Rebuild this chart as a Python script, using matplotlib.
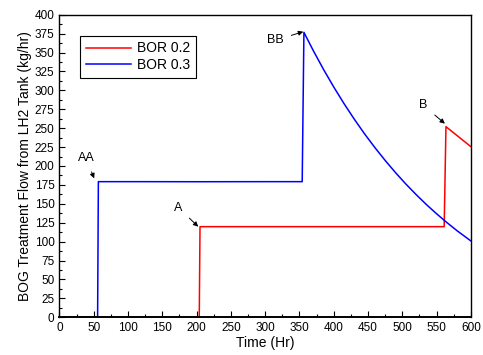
import matplotlib
matplotlib.use("Agg")
import matplotlib.pyplot as plt
from matplotlib.ticker import MultipleLocator

plt.rcParams['font.family'] = ['Liberation Sans', 'DejaVu Sans']

# BOR 0.3 (blue) samples
bor03_t = [0, 55.7, 56.8, 120, 200, 300, 354.0, 356.5, 370, 385, 400, 415,
           430, 445, 460, 475, 490, 505, 520, 535, 550, 565, 580, 600]
bor03_v = [0, 0, 179.3, 179.3, 179.2, 179.3, 179.3, 376.7, 352.8, 327.8, 304.4,
           282.4, 261.8, 242.4, 224.3, 207.3, 191.3, 176.3, 162.3, 149.1, 136.8,
           125.2, 114.3, 100.9]

# BOR 0.2 (red) samples
bor02_t = [0, 203.9, 205, 300, 400, 500, 561.0, 563.6, 600]
bor02_v = [0, 0, 119.8, 119.8, 119.8, 119.8, 119.8, 252, 225.5]

# annotations: label, text position, arrow tip
ann_labels = ["AA", "A", "BB", "B"]
ann_text_xy = [(38.6, 210.6), (173.5, 145), (314.2, 366), (531, 280)]
ann_tip_xy = [(50.7, 183.7), (202.4, 119.8), (355.5, 377.5), (562, 256)]

fig = plt.figure(figsize=(4.83, 3.55), dpi=100)
ax = fig.add_axes([0.123, 0.1062, 0.852, 0.8524])

ax.plot(bor02_t, bor02_v, color='#ff0000', lw=1.1, label='BOR 0.2')
ax.plot(bor03_t, bor03_v, color='#0000ff', lw=1.1, label='BOR 0.3')

for lab, txy, tip in zip(ann_labels, ann_text_xy, ann_tip_xy):
    ax.annotate(lab, xy=tip, xytext=txy, ha='center', va='center', fontsize=9,
                arrowprops=dict(arrowstyle='-|>', color='black', lw=0.7,
                                mutation_scale=7, shrinkA=4, shrinkB=0))

ax.set_xlim(0, 600)
ax.set_ylim(0, 400)
ax.xaxis.set_major_locator(MultipleLocator(50))
ax.xaxis.set_minor_locator(MultipleLocator(25))
ax.yaxis.set_major_locator(MultipleLocator(25))
ax.yaxis.set_minor_locator(MultipleLocator(12.5))
ax.tick_params(which='both', direction='in', top=False, right=False, labelsize=8.5, width=0.8)
ax.tick_params(which='major', length=4)
ax.tick_params(which='minor', length=2)
for s in ax.spines.values():
    s.set_linewidth(1.0)
    s.set_zorder(5)
ax.spines['bottom'].set_linewidth(1.4)

ax.set_xlabel('Time (Hr)', fontsize=10, labelpad=1)
ax.set_ylabel('BOG Treatment Flow from LH2 Tank (kg/hr)', fontsize=10, labelpad=2)

leg = ax.legend(loc='upper left', bbox_to_anchor=(0.05, 0.93), fontsize=10,
                frameon=True, fancybox=False, edgecolor='black', framealpha=1,
                handlelength=3.3, borderpad=0.4, labelspacing=0.2, handletextpad=0.4,
                borderaxespad=0)
leg.get_frame().set_linewidth(0.8)

fig.savefig('out.png', dpi=100)
